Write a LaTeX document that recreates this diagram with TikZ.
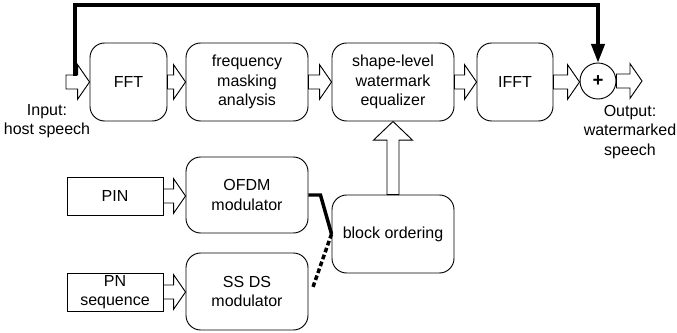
\documentclass[tikz,border=0pt]{standalone}
\usepackage{fontspec}
\setmainfont{Liberation Sans}
\usetikzlibrary{arrows.meta,calc}

\tikzset{
  proc/.style={draw, line width=0.7pt, rounded corners=11pt, minimum width=91.5pt,
    minimum height=58.5pt, align=center, inner sep=2pt},
  src/.style={draw, line width=0.7pt, minimum width=72pt, minimum height=28.5pt,
    align=center, inner sep=1pt},
  hollow/.style={draw, fill=white, line width=0.7pt, line join=miter},
  feed/.style={line width=2.5pt, -{Triangle[length=14pt,width=10pt]}},
  switch/.style={line width=2.6pt},
}

% hollow block arrow between two points at the same height
\newcommand{\harrow}[2]{%
  \draw[hollow] let \p1=(#1), \p2=(#2) in
    (\x1,\y1+5.25pt) -- (\x2-9pt,\y1+5.25pt) -- (\x2-9pt,\y1+13pt) -- (\x2,\y1)
    -- (\x2-9pt,\y1-13pt) -- (\x2-9pt,\y1-5.25pt) -- (\x1,\y1-5.25pt) -- cycle;}

\begin{document}
\begin{tikzpicture}[x=0.75pt, y=-0.75pt, font=\fontsize{12}{14.4}\selectfont]
  \useasboundingbox (0,0) rectangle (677,332);

  % main chain
  \node[proc, minimum width=57.75pt] (fft) at (128.5,82) {FFT};
  \node[proc] (fma) at (247,82) {frequency\\masking\\analysis};
  \node[proc] (eq) at (393,82) {shape-level\\watermark\\equalizer};
  \node[proc, minimum width=57pt] (ifft) at (515,82) {IFFT};
  \node[draw, circle, line width=0.7pt, minimum size=27pt, inner sep=0pt] (sum) at (598,81)
    {\bfseries\fontsize{14}{14}\selectfont +};

  \node[align=center] (input) at (47,121) {Input:\\host speech};
  \node[align=center] (output) at (630,132) {Output:\\watermarked\\speech};
  \coordinate (in) at (66,82);
  \coordinate (out) at (642,81);

  \harrow{in}{fft.west}
  \harrow{fft.east}{fma.west}
  \harrow{fma.east}{eq.west}
  \harrow{eq.east}{ifft.west}
  \harrow{ifft.east}{sum.west}
  \harrow{sum.east}{out}

  % host speech bypass
  \coordinate (fb) at (75,76);
  \coordinate (fbtop) at (75,5);
  \draw[feed] (fb) -- (fbtop) -| (sum.north);

  % watermark branch
  \node[src] (pin) at (115,196) {PIN};
  \node[src] (pn) at (115,292) {PN\\sequence};
  \node[proc, minimum height=57pt] (ofdm) at (247,195) {OFDM\\modulator};
  \node[proc, minimum height=57.75pt] (ssds) at (247,291.5) {SS DS\\modulator};
  \node[proc] (blk) at (393,234) {block ordering};

  \harrow{pin.east}{ofdm.west}
  \harrow{pn.east}{ssds.west}

  \draw[hollow] let \p1=(blk.north), \p2=(eq.south) in
    (\x1-4.5pt,\y1) -- (\x1-4.5pt,\y2-14pt) -- (\x1-14.6pt,\y2-14pt) -- (\x1,\y2)
    -- (\x1+14.6pt,\y2-14pt) -- (\x1+4.5pt,\y2-14pt) -- (\x1+4.5pt,\y1) -- cycle;

  % selector
  \coordinate (swend) at (313,287);
  \draw[switch] (ofdm.east) -- ++(12,0) -- (blk.west);
  \draw[switch, dash pattern=on 3.5pt off 2pt] (blk.west) -- (swend);
\end{tikzpicture}
\end{document}
